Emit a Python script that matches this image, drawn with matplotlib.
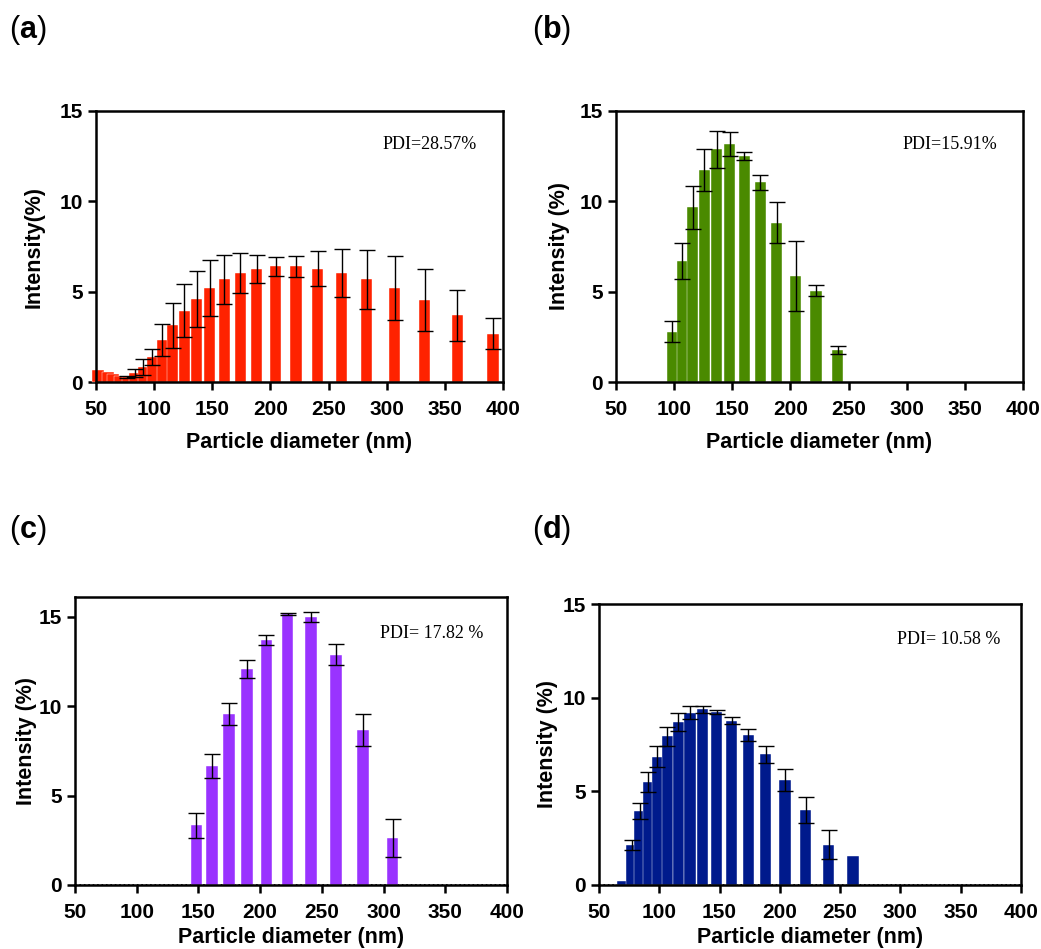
import matplotlib
matplotlib.use("Agg")
import matplotlib.pyplot as plt
import numpy as np

plt.rcParams["font.family"] = "Liberation Sans"
plt.rcParams["mathtext.fontset"] = "custom"
plt.rcParams["mathtext.rm"] = "Liberation Sans"
plt.rcParams["mathtext.bf"] = "Liberation Sans:bold"

# ── data ─────────────────────────────────────────────────────────────────────
size_a = [51.7, 60.3, 64.6, 69.8, 76.7, 83.5, 90.6, 98.4, 106.8, 115.9, 125.9, 136.6,
          148.0, 160.3, 174.1, 188.4, 204.5, 222.0, 240.6, 261.2, 283.0, 306.8,
          332.9, 360.7, 391.4]
int_a = [0.66, 0.53, 0.44, 0.35, 0.27, 0.5, 0.82, 1.37, 2.33, 3.15, 3.95, 4.6, 5.2,
         5.68, 6.03, 6.27, 6.4, 6.4, 6.27, 6.03, 5.68, 5.18, 4.52, 3.69, 2.68]
err_a = [0, 0, 0, 0, 0.04, 0.2, 0.44, 0.44, 0.87, 1.25, 1.47, 1.57, 1.53, 1.37, 1.12,
         0.78, 0.53, 0.6, 0.98, 1.34, 1.62, 1.77, 1.71, 1.42, 0.88]

size_b = [98.4, 107.0, 115.9, 125.9, 136.6, 148.0, 160.3, 174.1, 188.4, 204.5, 222.0, 240.6]
int_b = [2.79, 6.7, 9.67, 11.75, 12.88, 13.15, 12.51, 11.05, 8.82, 5.87, 5.06, 1.79]
err_b = [0.6, 0.99, 1.18, 1.17, 1.02, 0.66, 0.2, 0.42, 1.13, 1.94, 0.29, 0.22]

size_c = [148.4, 160.8, 174.6, 189.2, 205.1, 222.2, 241.1, 261.6, 283.5, 307.3]
int_c = [3.33, 6.64, 9.54, 12.06, 13.7, 15.15, 14.98, 12.88, 8.66, 2.64]
err_c = [0.69, 0.66, 0.61, 0.5, 0.3, 0.04, 0.26, 0.6, 0.9, 1.07]

size_d = [69.6, 77.1, 83.7, 90.9, 98.4, 106.7, 115.8, 125.5, 136.0, 147.6, 160.0,
          173.9, 188.2, 204.3, 221.4, 240.5, 260.7]
int_d = [0.23, 2.14, 3.96, 5.51, 6.84, 7.93, 8.7, 9.2, 9.38, 9.23, 8.77, 8.0, 6.97,
         5.61, 4.01, 2.16, 1.57]
err_d = [0, 0.25, 0.44, 0.53, 0.56, 0.53, 0.46, 0.36, 0.2, 0.12, 0.18, 0.33, 0.46,
         0.58, 0.69, 0.77, 0]

pdi_labels = ["PDI=28.57%", "PDI=15.91%", "PDI= 17.82 %", "PDI= 10.58 %"]
ylabels = ["Intensity(%)", "Intensity (%)", "Intensity (%)", "Intensity (%)"]
letters = ["a", "b", "c", "d"]
colors = ["#FF2200", "#4A8A00", "#9933FF", "#001A8C"]

x_ticks = [50, 100, 150, 200, 250, 300, 350, 400]
y_ticks = [0, 5, 10, 15]

# ── layout (pixels -> fig fractions) ─────────────────────────────────────────
W, H = 1041, 949
fig = plt.figure(figsize=(W / 100, H / 100), dpi=100)
rects = [
    (96, 503, 111, 382),
    (616, 1023, 111, 382),
    (75, 507, 597, 885),
    (599, 1021, 604, 885),
]
ytops = [15, 15, 16.1, 15]
ylabelpads = [11, 7, 1, 3]
xlabelpads = [9, 9, 3.5, 3.5]
letter_pos = [(9, 30), (532, 30), (9, 530), (532, 530)]
datasets = [(size_a, int_a, err_a), (size_b, int_b, err_b),
            (size_c, int_c, err_c), (size_d, int_d, err_d)]

for i, (l, r, t, b) in enumerate(rects):
    ax = fig.add_axes([l / W, 1 - b / H, (r - l) / W, (b - t) / H])
    x, y, e = (np.array(v) for v in datasets[i])
    ax.bar(x, y, width=9.5, color=colors[i], edgecolor="white", linewidth=0.3,
           zorder=2, clip_on=False)
    m = e > 0
    ax.errorbar(x[m], y[m], yerr=e[m], fmt="none", ecolor="black", elinewidth=1.0,
                capsize=5.5, capthick=1.0, zorder=3)
    if i >= 2:
        ax.axhline(0, color="black", lw=1.2, ls=":", zorder=1)

    ax.set_xlim(50, 400)
    ax.set_ylim(0, ytops[i])
    ax.set_xticks(x_ticks)
    ax.set_yticks(y_ticks)
    for s in ax.spines.values():
        s.set_linewidth(1.8)
    ax.tick_params(width=1.8, length=6, labelsize=15)
    ax.tick_params(axis="x", pad=7)
    for lab in ax.get_xticklabels() + ax.get_yticklabels():
        lab.set_fontweight("bold")
    ax.set_xlabel("Particle diameter (nm)", fontsize=15.5, fontweight="bold",
                  labelpad=xlabelpads[i])
    ax.set_ylabel(ylabels[i], fontsize=15.5, fontweight="bold", labelpad=ylabelpads[i])

    ax.text(0.705, 0.875, pdi_labels[i], transform=ax.transAxes, fontsize=13,
            family="Liberation Serif", va="center", ha="left")

    lx, ly = letter_pos[i]
    fig.text(lx / W, 1 - ly / H, rf"($\mathbf{{{letters[i]}}}$)", fontsize=22,
             va="center", ha="left")

fig.savefig("out.png", dpi=100)
